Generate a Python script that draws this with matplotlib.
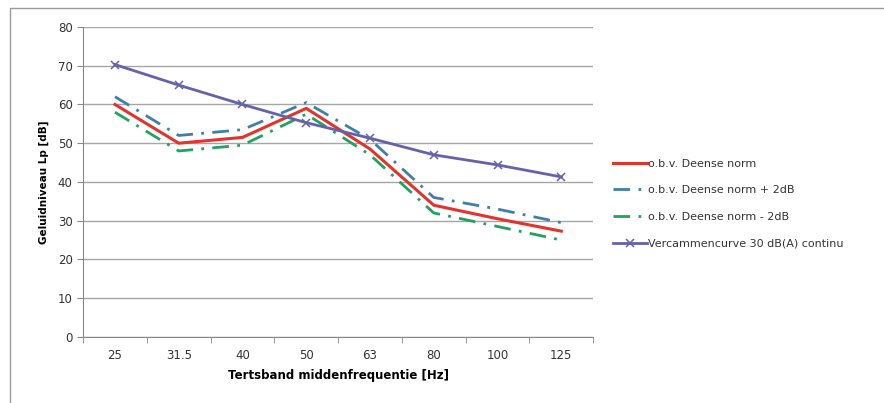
import numpy as np
import matplotlib
matplotlib.use('Agg')
import matplotlib.pyplot as plt
from matplotlib.patches import Rectangle

# Data
freqs = ["25", "31.5", "40", "50", "63", "80", "100", "125"]
deense = [60, 50, 51.5, 59, 48.5, 34, 30.5, 27.3]
deense_plus = [62, 52, 53.5, 60.5, 51, 36, 33, 29.5]
deense_min = [58, 48, 49.5, 57.5, 47, 32, 28.5, 25]
vercammen = [70.3, 65, 60, 55.3, 51.3, 47, 44.4, 41.3]

plt.rcParams['font.family'] = ['DejaVu Sans']
plt.rcParams['text.color'] = '#333333'

fig = plt.figure(figsize=(8.84, 4.03), dpi=100)
ax = fig.add_axes([0.094, 0.164, 0.577, 0.769])

x = np.arange(len(freqs))
ax.plot(x, deense, color='#E2332C', lw=2.2, label='o.b.v. Deense norm', zorder=4)
ax.plot(x, deense_plus, color='#3F7FA8', lw=2.0, ls=(0, (6, 3, 1, 3)),
        label='o.b.v. Deense norm + 2dB', zorder=3)
ax.plot(x, deense_min, color='#23A064', lw=2.0, ls=(0, (6, 3, 1, 3)),
        label='o.b.v. Deense norm - 2dB', zorder=3)
ax.plot(x, vercammen, color='#6462A8', lw=2.0, marker='x', ms=6, mew=1.1,
        label='Vercammencurve 30 dB(A) continu', zorder=5)

ax.set_xlim(-0.5, len(freqs) - 0.5)
ax.set_ylim(0, 80)
ax.set_yticks(np.arange(0, 81, 10))
ax.set_xticks(x)
ax.set_xticklabels(freqs)
ax.set_xticks(np.arange(-0.5, len(freqs)), minor=True)
ax.tick_params(axis='x', which='major', length=0, pad=9, labelsize=8.5, labelcolor='#333333')
ax.tick_params(axis='x', which='minor', length=4, color='#888888')
ax.tick_params(axis='y', length=4, color='#888888', labelsize=8.5, labelcolor='#333333')
ax.grid(axis='y', color='#A6A6A6', lw=1.0)
ax.set_axisbelow(True)
for s in ['top', 'right']:
    ax.spines[s].set_visible(False)
for s in ['left', 'bottom']:
    ax.spines[s].set_color('#888888')

ax.set_xlabel('Tertsband middenfrequentie [Hz]', fontsize=8.5, fontweight='bold', labelpad=5)
ax.set_ylabel('Geluidniveau Lp [dB]', fontsize=7.5, fontweight='bold', labelpad=6)

ax.legend(loc='center left', bbox_to_anchor=(1.02, 0.43), frameon=False,
          fontsize=8, handlelength=3.0, handletextpad=0.1, labelspacing=1.5)

# outer chart border
fig.patches.append(Rectangle((10 / 884, -0.1), 1.2, 1 - 8 / 403 + 0.1,
                             transform=fig.transFigure, fill=False,
                             edgecolor='#9A9A9A', lw=1.0))

fig.savefig('out.png', dpi=100)
